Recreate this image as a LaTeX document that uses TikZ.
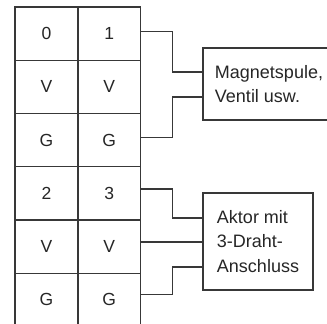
\documentclass[tikz,border=0pt]{standalone}
\usepackage{fontspec}
\setmainfont{Liberation Sans}
\begin{document}
\begin{tikzpicture}[x=1pt,y=-1pt,
  ln/.style={draw=black!78,line width=1.1pt},
  cell/.style={ln,minimum width=63pt,minimum height=53.25pt,inner sep=0pt,
    font=\fontsize{17.5}{24.5}\selectfont,text=black!85},
  devbox/.style={ln,inner sep=0pt,align=left,
    font=\fontsize{18}{24.5}\selectfont,text=black!85},
  wire/.style={draw=black!78,line width=1.1pt}]
\useasboundingbox (0,0) rectangle (327,324);
\fill[white] (0,0) rectangle (327,324);
% table
\node[cell] (z0) at (46.5,33.6) {0};
\node[cell] (z1) at (109.2,33.6) {1};
\node[cell] (v0) at (46.5,86.9) {V};
\node[cell] (v1) at (109.2,86.9) {V};
\node[cell] (g0) at (46.5,140.1) {G};
\node[cell] (g1) at (109.2,140.1) {G};
\node[cell] (z2) at (46.5,193.4) {2};
\node[cell] (z3) at (109.2,193.4) {3};
\node[cell] (v2) at (46.5,246.6) {V};
\node[cell] (v3) at (109.2,246.6) {V};
\node[cell] (g2) at (46.5,299.9) {G};
\node[cell] (g3) at (109.2,299.9) {G};
% devices
\node[devbox,minimum width=132pt,minimum height=72pt] (mag) at (269,84) {Magnetspule,\\Ventil usw.};
\node[devbox,minimum width=110pt,minimum height=97pt] (akt) at (258,241.5) {Aktor mit\\3-Draht-\\Anschluss};
% wires
\draw[wire] ([yshift=1.8pt]z1.east) -- ++(31.5,0) |- ([yshift=12pt]mag.west);
\draw[wire] ([yshift=3pt]g1.east) -- ++(31.5,0) |- ([yshift=-13pt]mag.west);
\draw[wire] ([yshift=4.4pt]z3.east) -- ++(31.5,0) |- ([yshift=23.5pt]akt.west);
\draw[wire] ([yshift=4.6pt]v3.east) coordinate (w4) -- (w4 -| akt.west);
\draw[wire] ([yshift=5pt]g3.east) -- ++(31.5,0) |- ([yshift=-25.5pt]akt.west);
\end{tikzpicture}
\end{document}
